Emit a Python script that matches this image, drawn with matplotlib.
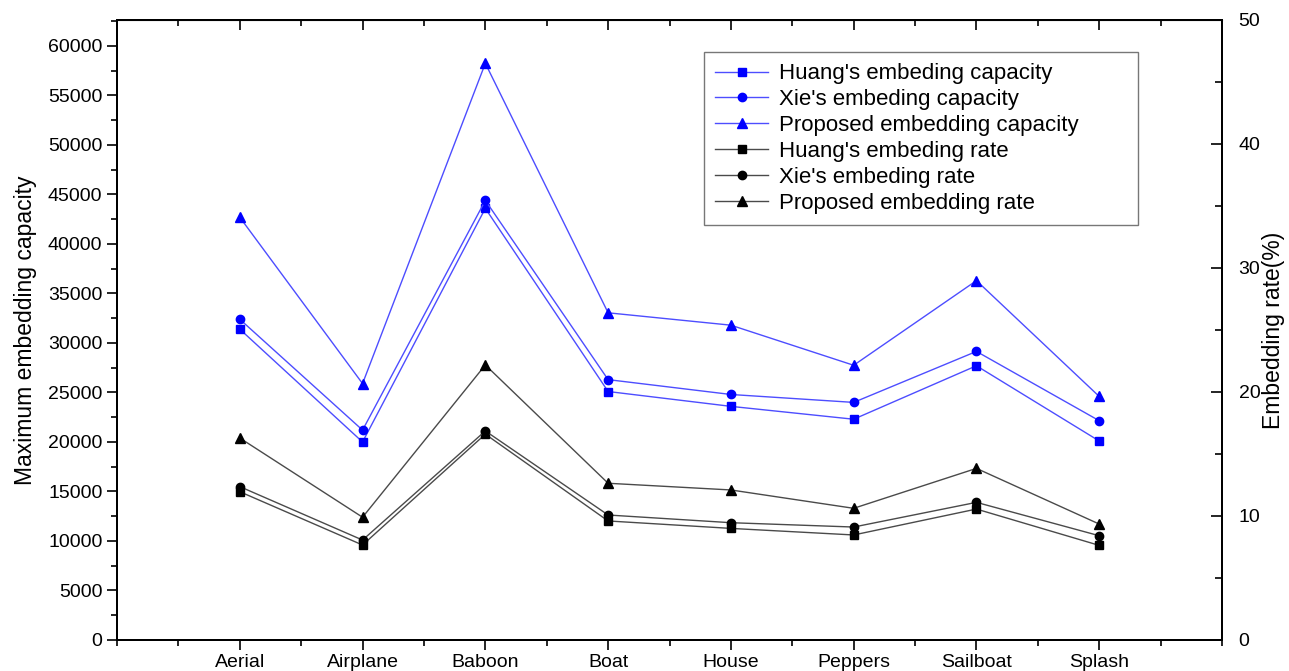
import numpy as np
import matplotlib.pyplot as plt
from matplotlib.ticker import MultipleLocator, FixedLocator

plt.rcParams['font.family'] = ['Liberation Sans', 'DejaVu Sans']

images = ['Aerial', 'Airplane', 'Baboon', 'Boat', 'House', 'Peppers', 'Sailboat', 'Splash']

# maximum embedding capacity (bits)
huang_cap = [31400, 20000, 43600, 25100, 23600, 22300, 27700, 20100]
xie_cap = [32400, 21200, 44400, 26300, 24800, 24000, 29150, 22150]
proposed_cap = [42700, 25900, 58250, 33050, 31800, 27750, 36300, 24600]

# embedding rate (%)
huang_rate = [11.96, 7.66, 16.6, 9.6, 9.0, 8.47, 10.56, 7.63]
xie_rate = [12.37, 8.06, 16.86, 10.08, 9.46, 9.11, 11.1, 8.41]
proposed_rate = [16.29, 9.9, 22.18, 12.64, 12.1, 10.62, 13.84, 9.35]

x = np.arange(1, len(images) + 1)

fig = plt.figure(figsize=(12.89, 6.71), dpi=100)
ax = fig.add_axes([117 / 1289, 31 / 671, 1105 / 1289, 620 / 671])
ax2 = ax.twinx()

blue_line = '#4d4dff'
grey_line = '#4a4a4a'
h1, = ax.plot(x, huang_cap, color=blue_line, lw=1, marker='s', ms=5.5,
              mfc='blue', mec='blue', label="Huang's embeding capacity")
h2, = ax.plot(x, xie_cap, color=blue_line, lw=1, marker='o', ms=6,
              mfc='blue', mec='blue', label="Xie's embeding capacity")
h3, = ax.plot(x, proposed_cap, color=blue_line, lw=1, marker='^', ms=6.5,
              mfc='blue', mec='blue', label='Proposed embedding capacity')
h4, = ax2.plot(x, huang_rate, color=grey_line, lw=1, marker='s', ms=5.5,
               mfc='black', mec='black', label="Huang's embeding rate")
h5, = ax2.plot(x, xie_rate, color=grey_line, lw=1, marker='o', ms=6,
               mfc='black', mec='black', label="Xie's embeding rate")
h6, = ax2.plot(x, proposed_rate, color=grey_line, lw=1, marker='^', ms=6.5,
               mfc='black', mec='black', label='Proposed embedding rate')

ax.set_xlim(0, 9)
ax.set_ylim(0, 62626)
ax2.set_ylim(0, 50)

ax.xaxis.set_major_locator(FixedLocator(x))
ax.set_xticklabels(images)
ax.xaxis.set_minor_locator(MultipleLocator(0.5))
ax.yaxis.set_major_locator(MultipleLocator(5000))
ax.yaxis.set_minor_locator(MultipleLocator(2500))
ax2.yaxis.set_major_locator(MultipleLocator(10))
ax2.yaxis.set_minor_locator(MultipleLocator(5))

for a in (ax, ax2):
    for s in a.spines.values():
        s.set_linewidth(1.4)

ax.tick_params(axis='x', which='both', direction='out', labelsize=14, pad=3)
ax.tick_params(axis='y', which='both', direction='out', labelsize=14)
ax.tick_params(which='major', length=7, width=1.2)
ax.tick_params(which='minor', length=4, width=1.2)
ax2.tick_params(axis='y', which='both', direction='in', labelsize=14, width=1.2, pad=12)
ax2.tick_params(axis='y', which='major', length=8)
ax2.tick_params(axis='y', which='minor', length=5)

ax.set_ylabel('Maximum embedding capacity', fontsize=16.5, labelpad=8)
ax2.set_ylabel('Embedding rate(%)', fontsize=16.5)
ax2.yaxis.set_label_coords(1.036, 0.5)

# top axis ticks point inward
secx = ax.secondary_xaxis('top')
secx.set_xticks(x)
secx.xaxis.set_minor_locator(MultipleLocator(0.5))
secx.tick_params(which='both', direction='in', labeltop=False, width=1.2)
secx.tick_params(which='major', length=7)
secx.tick_params(which='minor', length=4)

leg = ax2.legend(handles=[h1, h2, h3, h4, h5, h6], loc='upper left',
                 bbox_to_anchor=(0.531, 0.674, 0.393, 0.274), mode='expand',
                 borderaxespad=0, fontsize=16, frameon=True, fancybox=False,
                 edgecolor='#555555', handlelength=2.4, labelspacing=0.22,
                 borderpad=0.5, handletextpad=0.5)
leg.get_frame().set_linewidth(1)
leg._legend_box.align = 'left'

fig.savefig('out.png', dpi=100)
